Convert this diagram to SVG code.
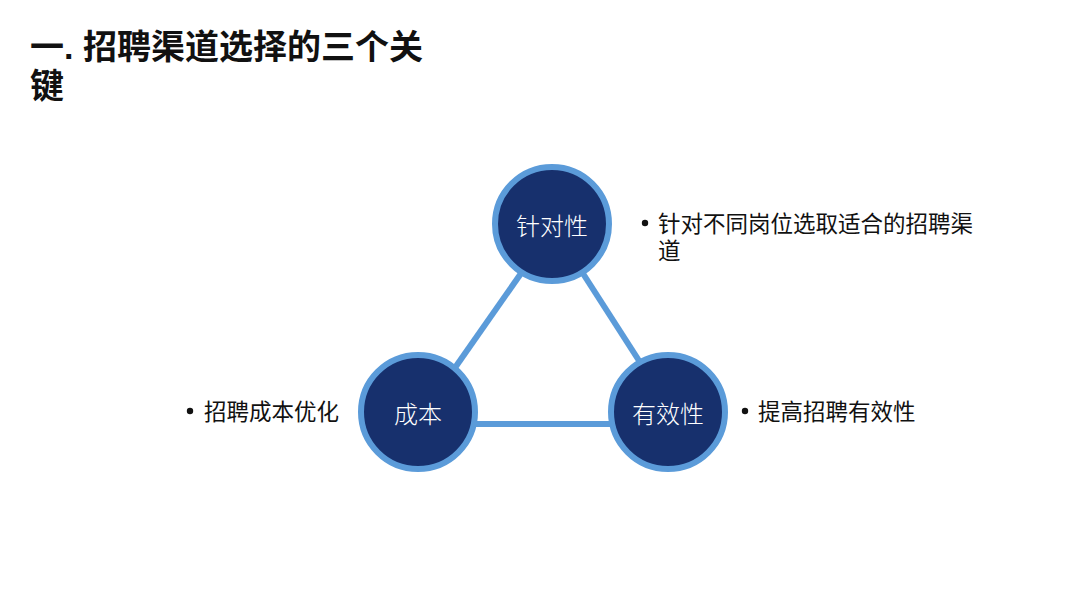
<svg xmlns="http://www.w3.org/2000/svg" width="1080" height="607" viewBox="0 0 1080 607">
<style>
.title{font-family:"Liberation Sans","Noto Sans CJK SC",sans-serif;font-size:34px;font-weight:bold;fill:#111}
.node circle{fill:#17306d;stroke:#5b9bd9;stroke-width:6}
.node text{font-family:"Noto Sans CJK SC",sans-serif;font-size:24px;font-weight:300;fill:#fff;text-anchor:middle;dominant-baseline:central}
.bul{font-family:"Liberation Sans","Noto Sans CJK SC",sans-serif;font-size:22.5px;fill:#111}
.dot{fill:#111}
.conn line{stroke:#5b9bd9;stroke-width:6;stroke-linecap:butt}
</style>
<rect width="1080" height="607" fill="#fff"/>
<text class="title" x="30" y="59">一. 招聘渠道选择的三个关</text>
<text class="title" x="30" y="98">键</text>
<g id="connectors" class="conn">
<line x1="522" y1="272" x2="452" y2="372"/>
<line x1="582" y1="272" x2="645" y2="370"/>
<line x1="470" y1="424" x2="615" y2="424"/>
</g>
<g id="node-zhenduixing" class="node">
<circle cx="552" cy="224" r="57"/>
<text x="552" y="224">针对性</text>
</g>
<g id="node-chengben" class="node">
<circle cx="418" cy="412" r="57"/>
<text x="418" y="412">成本</text>
</g>
<g id="node-youxiaoxing" class="node">
<circle cx="668" cy="412" r="57"/>
<text x="668" y="412">有效性</text>
</g>
<g id="label-top">
<circle class="dot" cx="645" cy="223" r="3.2"/>
<text class="bul" x="658" y="232">针对不同岗位选取适合的招聘渠</text>
<text class="bul" x="658" y="259">道</text>
</g>
<g id="label-left">
<circle class="dot" cx="190" cy="411" r="3.2"/>
<text class="bul" x="204" y="420">招聘成本优化</text>
</g>
<g id="label-right">
<circle class="dot" cx="745" cy="411" r="3.2"/>
<text class="bul" x="758" y="420">提高招聘有效性</text>
</g>
</svg>
